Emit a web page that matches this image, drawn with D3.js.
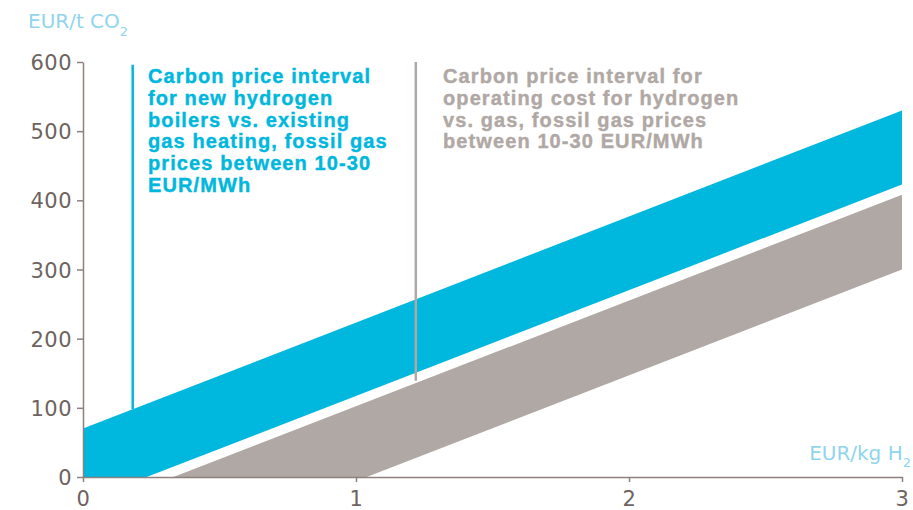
<!DOCTYPE html>
<html>
<head>
<meta charset="utf-8">
<script src="https://cdn.jsdelivr.net/npm/d3@7"></script>
<style>
  body { margin: 0; background: #fff; }
  svg { display: block; }
</style>
</head>
<body>
<script>
// chart values
const xTicks = [0, 1, 2, 3]
const yTicks = [0, 100, 200, 300, 400, 500, 600]

// band edges as [EUR/kg H2, EUR/t CO2]
const blueUpper = [[0, 70], [3, 530]]
const blueLower = [[0.233, 0], [3, 423]]
const grayUpper = [[0.331, 0], [3, 408]]
const grayLower = [[1.039, 0], [3, 300]]

// vertical pointer lines for the two notes
const markerX = [0.182, 1.219]
const markerFrom = [98, 139]
const markerTo = [596, 600]

const blueNote = ["Carbon price interval", "for new hydrogen", "boilers vs. existing",
    "gas heating, fossil gas", "prices between 10-30", "EUR/MWh"]
const grayNote = ["Carbon price interval for", "operating cost for hydrogen",
    "vs. gas, fossil gas prices", "between 10-30 EUR/MWh"]

const BLUE = "#00b7dd", GRAY = "#b0a8a4", TITLE = "#8fd5ec", TICK = "#6e635e", AXIS = "#8c817c"

const width = 913, height = 510
const margin = { top: 62, right: 11, bottom: 33, left: 83 }

const svg = d3.select("body").append("svg")
    .attr("width", width)
    .attr("height", height)

const x = d3.scaleLinear().domain([0, 3]).range([margin.left, width - margin.right])
const y = d3.scaleLinear().domain([0, 600]).range([height - margin.bottom, margin.top])

// bands: upper edge left to right, then lower edge back
function band(upper, lower) {
    const pts = upper.concat(lower.slice().reverse())
    return d3.line().x(d => x(d[0])).y(d => y(d[1]))(pts) + "Z"
}

const blueBand = [[0, 0]].concat(blueUpper)
svg.append("path")
    .attr("d", band(blueBand, blueLower))
    .attr("fill", BLUE)

svg.append("path")
    .attr("d", band(grayUpper, grayLower))
    .attr("fill", GRAY)

// pointer lines
svg.selectAll(".marker")
    .data(markerX)
    .enter().append("line")
    .attr("class", "marker")
    .attr("x1", d => x(d))
    .attr("x2", d => x(d))
    .attr("y1", (d, i) => y(markerFrom[i]))
    .attr("y2", (d, i) => y(markerTo[i]))
    .attr("stroke", (d, i) => i === 0 ? BLUE : GRAY)
    .attr("stroke-width", 2.5)

// axes
const yAxis = svg.append("g")
    .attr("transform", `translate(${margin.left},0)`)
    .call(d3.axisLeft(y).tickValues(yTicks).tickSize(6).tickSizeOuter(0).tickPadding(5))
const xAxis = svg.append("g")
    .attr("transform", `translate(0,${height - margin.bottom})`)
    .call(d3.axisBottom(x).tickValues(xTicks).tickFormat(d3.format("d"))
        .tickSize(5).tickSizeOuter(0).tickPadding(9))

for (const g of [yAxis, xAxis]) {
    g.select(".domain").attr("stroke", AXIS).attr("stroke-width", 1.5)
    g.selectAll(".tick line").attr("stroke", AXIS).attr("stroke-width", 1.5)
    g.selectAll(".tick text")
        .attr("fill", TICK)
        .style("font-family", "DejaVu Sans, sans-serif")
        .style("font-size", "21px")
        .style("letter-spacing", "0.5px")
}
yAxis.selectAll(".tick text").attr("dy", "0.36em")
xAxis.selectAll(".tick text").attr("dy", "0.71em")

// axis titles
const yTitle = svg.append("text")
    .attr("x", 28).attr("y", 28)
    .attr("fill", TITLE)
    .style("font-family", "DejaVu Sans, sans-serif")
    .style("font-size", "20px")
yTitle.append("tspan").text("EUR/t CO")
yTitle.append("tspan").attr("dy", 8).style("font-size", "13px").text("2")

const xTitle = svg.append("text")
    .attr("x", 911).attr("y", 460)
    .attr("text-anchor", "end")
    .attr("fill", TITLE)
    .style("font-family", "DejaVu Sans, sans-serif")
    .style("font-size", "20px")
xTitle.append("tspan").text("EUR/kg H")
xTitle.append("tspan").attr("dy", 7).style("font-size", "13px").text("2")

// notes
function note(lines, left, top, color) {
    svg.append("text")
        .attr("x", left).attr("y", top)
        .attr("fill", color)
        .style("font-family", "Liberation Sans, Arial, sans-serif")
        .style("font-weight", "bold")
        .style("font-size", "20px")
        .style("letter-spacing", "1.1px")
        .style("stroke", color)
        .style("stroke-width", "0.4px")
        .selectAll("tspan")
        .data(lines)
        .enter().append("tspan")
        .attr("x", left)
        .attr("dy", (d, i) => i === 0 ? 0 : 21.8)
        .text(d => d)
}
note(blueNote, 148, 83, BLUE)
note(grayNote, 443, 83, GRAY)
</script>
</body>
</html>
